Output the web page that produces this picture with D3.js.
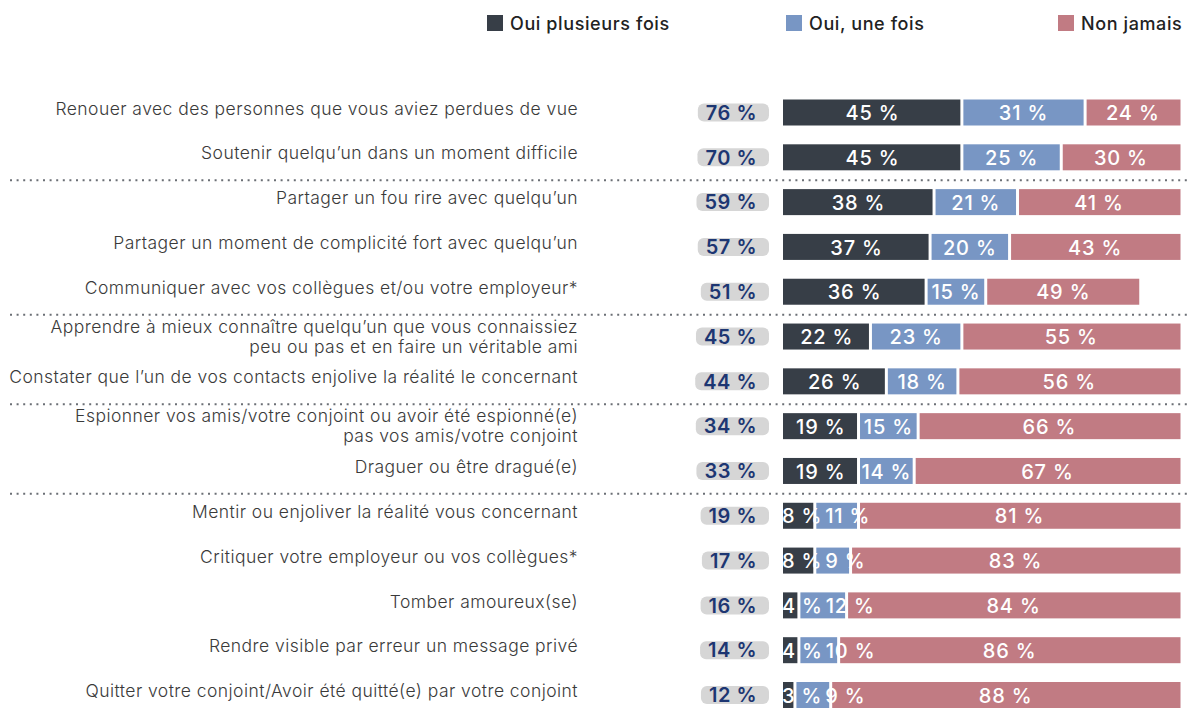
<!DOCTYPE html>
<html><head><meta charset="utf-8">
<script src="https://cdn.jsdelivr.net/npm/d3@7"></script>
<style>body{margin:0;background:#fff}svg{display:block}</style>
</head><body>
<svg id="c" width="1187" height="709"></svg>
<script>
const categories = [
  "Renouer avec des personnes que vous aviez perdues de vue",
  "Soutenir quelqu\u2019un dans un moment difficile",
  "Partager un fou rire avec quelqu\u2019un",
  "Partager un moment de complicité fort avec quelqu\u2019un",
  "Communiquer avec vos collègues et/ou votre employeur*",
  "Apprendre à mieux connaître quelqu\u2019un que vous connaissiez\npeu ou pas et en faire un véritable ami",
  "Constater que l\u2019un de vos contacts enjolive la réalité le concernant",
  "Espionner vos amis/votre conjoint ou avoir été espionné(e)\npas vos amis/votre conjoint",
  "Draguer ou être dragué(e)",
  "Mentir ou enjoliver la réalité vous concernant",
  "Critiquer votre employeur ou vos collègues*",
  "Tomber amoureux(se)",
  "Rendre visible par erreur un message privé",
  "Quitter votre conjoint/Avoir été quitté(e) par votre conjoint"
];
const totals       = [76, 70, 59, 57, 51, 45, 44, 34, 33, 19, 17, 16, 14, 12];
const ouiPlusieurs = [45, 45, 38, 37, 36, 22, 26, 19, 19, 8, 8, 4, 4, 3];
const ouiUne       = [31, 25, 21, 20, 15, 23, 18, 15, 14, 11, 9, 12, 10, 9];
const nonJamais    = [24, 30, 41, 43, 49, 55, 56, 66, 67, 81, 83, 84, 86, 88];
// bar length of "Non jamais" as drawn in the picture (one bar is shorter than its label)
const nonJamaisDrawn = [24, 30, 41, 43, 39, 55, 56, 66, 67, 81, 83, 84, 86, 88];
const groupStarts = [2, 5, 7, 9];
const seriesNames = ["Oui plusieurs fois", "Oui, une fois", "Non jamais"];
const colors = ["#373e47", "#7896c4", "#c17b83"];

const svg = d3.select("#c");
const FONT = "Inter, 'Open Sans', sans-serif";

const x = d3.scaleLinear().domain([0, 100]).range([783, 1180.5]);
const y = d3.scalePoint().domain(d3.range(categories.length)).range([112.5, 695]);
const barH = 26;

const rows = categories.map((c, i) => ({
  i, cat: c, total: totals[i],
  s0: ouiPlusieurs[i], s1: ouiUne[i], s2: nonJamaisDrawn[i],
  labels: [ouiPlusieurs[i], ouiUne[i], nonJamais[i]]
}));
const stack = d3.stack().keys(["s0", "s1", "s2"])(rows);

// separators
svg.append("g").selectAll("line").data(groupStarts).join("line")
  .attr("x1", 10).attr("x2", 1187)
  .attr("y1", d => (y(d - 1) + y(d)) / 2 + 0.5)
  .attr("y2", d => (y(d - 1) + y(d)) / 2 + 0.5)
  .attr("stroke", "#6b6f75").attr("stroke-width", 2)
  .attr("stroke-dasharray", "2,4.6");

// legend
const legX = [487, 786, 1058];
const leg = svg.append("g").selectAll("g").data(seriesNames).join("g")
  .attr("transform", (d, k) => `translate(${legX[k]},15)`);
leg.append("rect").attr("width", 16).attr("height", 16).attr("fill", (d, k) => colors[k]);
leg.append("text").attr("x", 23).attr("y", 8.5).attr("dy", "0.35em")
  .attr("font-family", FONT).attr("font-size", 18).attr("font-weight", 500)
  .attr("letter-spacing", 0.6)
  .attr("fill", "#222").text(d => d);

// category labels
const lab = svg.append("g").selectAll("text").data(rows).join("text")
  .attr("text-anchor", "end").attr("x", 578)
  .attr("font-family", FONT).attr("font-size", 17.5).attr("font-weight", 300)
  .attr("letter-spacing", 0.45)
  .attr("fill", "#3a3a3a");
lab.each(function (d) {
  const lines = d.cat.split("\n");
  const t = d3.select(this);
  const lh = 20;
  const y0 = lines.length > 1 ? y(d.i) - (lines.length - 1) * lh / 2 : y(d.i) - 4;
  lines.forEach((ln, j) => {
    t.append("tspan").attr("x", 578).attr("y", y0 + j * lh).attr("dy", "0.35em").text(ln);
  });
});

// total pills
const pills = svg.append("g").selectAll("g").data(rows).join("g");
pills.each(function (d) {
  const g = d3.select(this);
  const r = g.append("rect");
  const t = g.append("text").attr("text-anchor", "middle")
    .attr("font-family", FONT).attr("font-size", 20).attr("font-weight", 600)
    .attr("letter-spacing", 0.5)
    .attr("fill", "#1d3672").attr("y", y(d.i)).attr("dy", "0.36em")
    .text(d.total + " %");
  const w = t.node().getComputedTextLength() + 20;
  r.attr("x", 769 - w).attr("y", y(d.i) - 9).attr("width", w).attr("height", 18)
    .attr("rx", 6).attr("fill", "#d6d6d6");
  t.attr("x", 769 - w / 2 - 2);
});

// bars
const barsG = svg.append("g");
stack.forEach((ser, k) => {
  barsG.append("g").attr("fill", colors[k]).selectAll("rect").data(ser).join("rect")
    .attr("x", d => x(d[0]) + (k > 0 ? 1.5 : 0))
    .attr("y", (d, i) => y(i) - barH / 2)
    .attr("width", d => Math.max(0, x(d[1]) - x(d[0]) - (k > 0 ? 1.5 : 0) - (d[1] < 100 ? 1.5 : 0)))
    .attr("height", barH);
});

// bar value labels
svg.append("clipPath").attr("id", "clipL").append("rect")
  .attr("x", 783).attr("y", 0).attr("width", 420).attr("height", 709);
const valG = svg.append("g").attr("clip-path", "url(#clipL)");
rows.forEach((d, i) => {
  let prevRight = -Infinity;
  stack.forEach((ser, k) => {
    const seg = ser[i];
    const x0 = x(seg[0]), x1 = x(seg[1]);
    const t = valG.append("text").attr("font-family", FONT).attr("font-size", 20)
      .attr("font-weight", 500).attr("letter-spacing", 0.8).attr("fill", "#fff")
      .attr("y", y(i)).attr("dy", "0.38em").text(d.labels[k] + " %");
    const w = t.node().getComputedTextLength();
    let left = (x0 + x1) / 2 - w / 2;
    if (k === 0 && w > x1 - x0) left = x0 - 1;
    left = Math.max(left, prevRight + 3);
    t.attr("x", left);
    prevRight = left + w;
  });
});
</script>
</body></html>
